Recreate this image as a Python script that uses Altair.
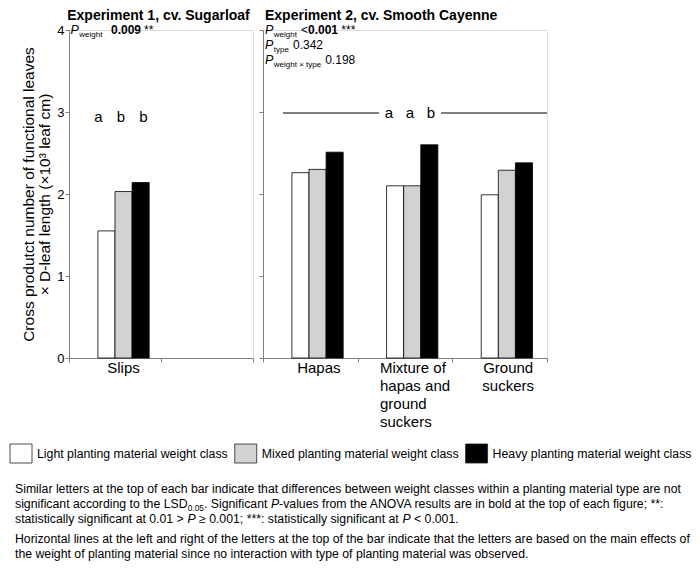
import altair as alt
import pandas as pd

# ---------------- data ----------------
weights = ["Light", "Mixed", "Heavy"]
exp1_types = ["Slips", "(none)"]
exp1_bar_types = ["Slips"]
exp1_light = [1.55]
exp1_mixed = [2.03]
exp1_heavy = [2.14]
exp1_labels = ["Slips"]

exp2_types = ["Hapas", "Mixture of hapas and ground suckers", "Ground suckers"]
exp2_light = [2.26, 2.10, 1.99]
exp2_mixed = [2.30, 2.10, 2.29]
exp2_heavy = [2.51, 2.60, 2.38]
exp2_labels = ["Hapas", "Mixture of\nhapas and\nground\nsuckers", "Ground\nsuckers"]

letters_exp1 = ["a", "b", "b"]
letters_exp2 = ["a", "a", "b"]
y_ticks = [0, 1, 2, 3, 4]

legend_labels = [
    "Light planting material weight class",
    "Mixed planting material weight class",
    "Heavy planting material weight class",
]
fill_colors = ["#ffffff", "#d2d2d2", "#000000"]

title1 = "Experiment 1, cv. Sugarloaf"
title2 = "Experiment 2, cv. Smooth Cayenne"
y_title = ["Cross produtct number of functional leaves", "× D-leaf length (×10³ leaf cm)"]

note_lines = [
    [("Similar letters at the top of each bar indicate that differences between weight classes within a planting material type are not", "n")],
    [("significant according to the LSD", "n"), ("0.05", "sub"), (". Significant ", "n"), ("P", "i"),
     ("-values from the ANOVA results are in bold at the top of each figure; **:", "n")],
    [("statistically significant at 0.01 > ", "n"), ("P", "i"), (" ≥ 0.001; ***: statistically significant at ", "n"),
     ("P", "i"), (" < 0.001.", "n")],
    [("Horizontal lines at the left and right of the letters at the top of the bar indicate that the letters are based on the main effects of", "n")],
    [("the weight of planting material since no interaction with type of planting material was observed.", "n")],
]

# ---------------- helpers ----------------
FONT = "Liberation Sans"
GRAY = "#808080"
H = 328
W1 = 184
W2 = 284

CW = {' ': 278, '!': 278, '(': 333, ')': 333, '*': 389, ',': 278, '-': 333, '.': 278, '/': 278,
      ':': 278, ';': 278, '<': 584, '>': 584, '=': 584, '≥': 549, '×': 584, '³': 333}
for c in "0123456789":
    CW[c] = 556
CW.update(dict(A=667, B=667, C=722, D=722, E=667, F=611, G=778, H=722, I=278, J=500, K=667, L=556, M=833,
               N=722, O=778, P=667, Q=778, R=722, S=667, T=611, U=722, V=667, W=944, X=667, Y=667, Z=611))
CW.update(dict(a=556, b=556, c=500, d=556, e=556, f=278, g=556, h=556, i=222, j=222, k=500, l=222, m=833,
               n=556, o=556, p=556, q=556, r=333, s=500, t=278, u=556, v=500, w=722, x=500, y=500, z=500))


def tw(s, size):
    return sum(CW.get(c, 556) for c in s) * size / 1000.0


def one():
    return alt.Data(values=[{}])


def txt(s, x, y, size, weight="normal", style="normal", align="left", baseline="alphabetic"):
    stripped = s.lstrip(" ")
    x = x + tw(s[: len(s) - len(stripped)], size) if align == "left" else x
    return alt.Chart(one()).mark_text(
        text=stripped, fontSize=size, fontWeight=weight, fontStyle=style, align=align,
        baseline=baseline, font=FONT, color="black"
    ).encode(x=alt.value(x), y=alt.value(y))


def rich(parts, x0, y, size):
    layers = []
    x = x0
    for s, kind in parts:
        if kind == "sub":
            sz = size * 0.68
            layers.append(txt(s, x, y + size * 0.25, sz))
        elif kind == "i":
            sz = size
            layers.append(txt(s, x, y, sz, style="italic"))
        elif kind == "b":
            sz = size
            layers.append(txt(s, x, y, sz, weight="bold"))
        else:
            sz = size
            layers.append(txt(s, x, y, sz))
        x += tw(s, sz)
    return layers, x


def hrule(x1, x2, y):
    return alt.Chart(one()).mark_rule(color="black", strokeWidth=1.2).encode(
        x=alt.value(x1), x2=alt.value(x2), y=alt.value(y))


def box(x1, x2, y1, y2, fill):
    return alt.Chart(one()).mark_rect(fill=fill, stroke="#222222", strokeWidth=0.8).encode(
        x=alt.value(x1), x2=alt.value(x2), y=alt.value(y1), y2=alt.value(y2))


def make_df(types, light, mixed, heavy):
    rows = []
    for t, l, m, h in zip(types, light, mixed, heavy):
        for w, v in zip(weights, (l, m, h)):
            rows.append({"type": t, "weight": w, "value": v})
    return pd.DataFrame(rows)


def panel_layers(df, domain, label_types, labels, y_axis, left_aligned=()):
    x = alt.X("type:N", scale=alt.Scale(domain=domain, paddingInner=0, paddingOuter=0),
              axis=alt.Axis(labels=False, title=None, tickBand="extent", tickSize=4,
                            domainColor=GRAY, tickColor=GRAY))
    xo = alt.XOffset("weight:N", scale=alt.Scale(domain=["_pad"] + weights, paddingInner=0,
                                                 paddingOuter=0.69))
    y = alt.Y("value:Q", scale=alt.Scale(domain=[0, 4], nice=False), axis=y_axis)
    bars = alt.Chart(df).mark_bar(stroke="black", strokeWidth=0.8).encode(
        x=x, xOffset=xo, y=y,
        fill=alt.Fill("weight:N", scale=alt.Scale(domain=weights, range=fill_colors), legend=None),
    )
    lab = pd.DataFrame({"type": label_types, "label": labels})
    c_lab = lab[~lab["type"].isin(left_aligned)]
    l_lab = lab[lab["type"].isin(left_aligned)]
    layers = [bars]
    if len(c_lab):
        layers.append(alt.Chart(c_lab).mark_text(
            align="center", baseline="alphabetic", fontSize=15, lineHeight=18, lineBreak="\n",
            dx=8.5, font=FONT, color="black").encode(x=x, y=alt.value(H + 15), text="label:N"))
    if len(l_lab):
        layers.append(alt.Chart(l_lab).mark_text(
            align="left", baseline="alphabetic", fontSize=15, lineHeight=18, lineBreak="\n",
            dx=-25, font=FONT, color="black").encode(x=x, y=alt.value(H + 15), text="label:N"))
    return layers


# ---------------- panels ----------------
df1 = make_df(exp1_bar_types, exp1_light, exp1_mixed, exp1_heavy)
df2 = make_df(exp2_types, exp2_light, exp2_mixed, exp2_heavy)

y_axis_left = alt.Axis(values=y_ticks, format="d", labelFontSize=13, labelFont=FONT, labelColor="black",
                       tickSize=4, labelPadding=1, domainColor=GRAY, tickColor=GRAY, grid=False,
                       title=y_title, titleFontSize=15.5, titleFontWeight="normal", titleFont=FONT,
                       titleColor="black", titlePadding=4, titleLineHeight=16.5)
y_axis_right = alt.Axis(values=y_ticks, labels=False, title=None, tickSize=4,
                        domainColor=GRAY, tickColor=GRAY, grid=False)

left = panel_layers(df1, exp1_types, ["Slips"], exp1_labels, y_axis_left)
right = panel_layers(df2, exp2_types, exp2_types, exp2_labels, y_axis_right,
                     left_aligned=("Mixture of hapas and ground suckers",))

# titles
left.append(txt(title1, W1 / 2 - 2.5, -21, 14, weight="bold", align="center", baseline="top"))
right.append(txt(title2, 2, -21, 14, weight="bold", baseline="top"))

# P-value annotations, left
PS, SS, VS = 12.5, 8, 12
lay, xe = rich([("P", "i")], 1.5, 4, PS)
left += lay
left.append(txt("weight", xe + 0.5, 7, SS))
left.append(txt("0.009", 42, 4, VS, weight="bold"))
left.append(txt("**", 42 + tw("0.009", VS) + 3, 4, VS))

# P-value annotations, right
for yy, sub, parts in [
    (4, "weight", [("<", "n"), ("0.001", "b"), (" ***", "n")]),
    (19, "type", [("0.342", "n")]),
    (34, "weight × type", [("0.198", "n")]),
]:
    right.append(txt("P", 2, yy, PS, style="italic"))
    xs = 2 + tw("P", PS) + 0.5
    right.append(txt(sub, xs, yy + 3, SS))
    lay, _ = rich(parts, xs + tw(sub, SS) + 4, yy, VS)
    right += lay

# letters
for i, L in enumerate(letters_exp1):
    left.append(txt(L, 52 + (i - 1) * 22.5, 87, 15, align="center", baseline="middle"))
for i, L in enumerate(letters_exp2):
    right.append(txt(L, 147 + (i - 1) * 21, 83, 15, align="center", baseline="middle"))
right.append(hrule(20, 116, 83))
right.append(hrule(178, W2, 83))

# legend (coordinates relative to the left plot area)
LS = 12.3
xc = -59
for lbl, col in zip(legend_labels, fill_colors):
    left.append(box(xc, xc + 22, 414, 433, col))
    xc += 22 + 5
    left.append(txt(lbl, xc, 423.5, LS, baseline="middle"))
    xc += tw(lbl, LS) + 7

# footnote
max_units = max(sum(CW.get(c, 556) for s, k in ln for c in s) for ln in note_lines)
NS = min(12.3, 676 * 1000.0 / max_units)
for yy, ln in zip([463, 478, 493, 513, 528], note_lines):
    lay, _ = rich(ln, -54, yy, NS)
    left += lay

left_chart = alt.layer(*left).properties(width=W1, height=H)
right_chart = alt.layer(*right).properties(width=W2, height=H)

chart = alt.hconcat(left_chart, right_chart, spacing=10, bounds="flush").properties(
    padding={"left": 1, "right": 0, "top": 0, "bottom": 0}
).configure_view(stroke=None).configure(font=FONT)

chart.save("out.html", embed_options={"renderer": "svg", "actions": False})
